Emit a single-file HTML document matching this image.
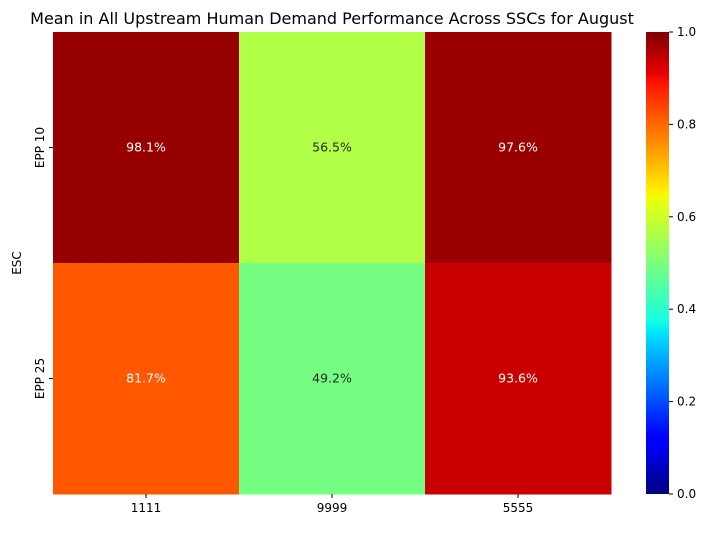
<!DOCTYPE html>
<html><head><meta charset="utf-8"><style>
body{margin:0;background:#fff;font-family:"Liberation Sans","DejaVu Sans",sans-serif}
</style></head><body>
<svg id="chart" width="710" height="528" xmlns="http://www.w3.org/2000/svg" font-family="DejaVu Sans, Liberation Sans, sans-serif">
<defs><linearGradient id="cbg" x1="0" y1="1" x2="0" y2="0"></linearGradient></defs>
<text x="332" y="24" text-anchor="middle" font-size="16" fill="#000">Mean in All Upstream Human Demand Performance Across SSCs for August</text>
<g id="cells"></g>
<g id="axes"></g>
<text transform="translate(21,263) rotate(-90)" text-anchor="middle" font-size="12">ESC</text>
</svg>
<script>
const xCategories = ["1111","9999","5555"];
const yCategories = ["EPP 10","EPP 25"];
const values = [[0.981,0.565,0.976],[0.817,0.492,0.936]];
const cbTicks = [0,0.2,0.4,0.6,0.8,1.0];

const L=53,R=611,T=32,B=494,CBL=646,CBR=669;
const svg=document.getElementById('chart'),NS="http://www.w3.org/2000/svg";
const JR=[[0,0],[0.35,0],[0.66,1],[0.89,1],[1,0.5]];
const JG=[[0,0],[0.125,0],[0.375,1],[0.64,1],[0.91,0],[1,0]];
const JB=[[0,0.5],[0.11,1],[0.34,1],[0.65,0],[1,0]];
function interp(p,v){for(let k=1;k<p.length;k++){if(v<=p[k][0]){const a=p[k-1],b=p[k];return a[1]+(b[1]-a[1])*(v-a[0])/(b[0]-a[0]);}}return p[p.length-1][1];}
function jet(v){const c=x=>Math.round(255*Math.max(0,Math.min(1,x)));
return `rgb(${c(interp(JR,v))},${c(interp(JG,v))},${c(interp(JB,v))})`;}
const cw=(R-L)/xCategories.length, ch=(B-T)/yCategories.length;
const xs=i=>L+i*cw, ys=j=>T+j*ch, cy=v=>B-v*(B-T);
function mk(t,a,p){const e=document.createElementNS(NS,t);for(const k in a)e.setAttribute(k,a[k]);(p||svg).appendChild(e);return e;}
const cells=document.getElementById('cells'),axes=document.getElementById('axes');
values.forEach((row,j)=>row.forEach((v,i)=>{
 const r=mk('rect',{x:xs(i),y:ys(j),width:cw+0.5,height:ch+0.5,fill:jet(v)},cells);
 
 
 const t=mk('text',{x:xs(i)+cw/2,y:ys(j)+ch/2+4,'text-anchor':'middle','font-size':12.5,fill:(v>0.9||(v>0.75&&v<0.88))?'#fff':'#262626'},cells);
 t.textContent=(v*100).toFixed(1)+'%';
 
 
}));
xCategories.forEach((c,i)=>{const x=xs(i)+cw/2;
 mk('line',{x1:x,x2:x,y1:B,y2:B+4,stroke:'#000'},axes);
 const t=mk('text',{x:x,y:B+18,'text-anchor':'middle','font-size':12},axes);t.textContent=c;
 
 });
yCategories.forEach((c,j)=>{const y=ys(j)+ch/2;
 mk('line',{x1:L-4,x2:L,y1:y,y2:y,stroke:'#000'},axes);
 const t=mk('text',{transform:`translate(${L-9},${y}) rotate(-90)`,'text-anchor':'middle','font-size':12},axes);t.textContent=c;
 
 });
const g=document.getElementById('cbg');
for(let k=0;k<=100;k++){mk('stop',{offset:k/100,'stop-color':jet(k/100)},g);}
const cb=mk('rect',{x:CBL,y:T,width:CBR-CBL,height:B-T,fill:'url(#cbg)'});


cbTicks.forEach(v=>{const y=cy(v);
 mk('line',{x1:CBR,x2:CBR+4,y1:y,y2:y,stroke:'#000'},axes);
 const t=mk('text',{x:CBR+8,y:y+4,'font-size':12},axes);t.textContent=v.toFixed(1);
 
 });
</script>
</body></html>
